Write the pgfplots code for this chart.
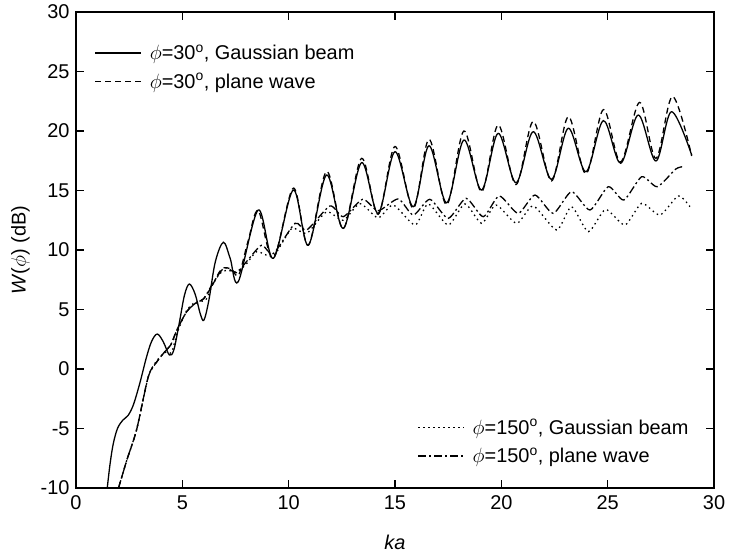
\documentclass[border=0pt]{standalone}
\usepackage{fontspec}
\setmainfont{Liberation Sans}
\usepackage{pgfplots}
\pgfplotsset{compat=1.18}
\begin{document}
\begin{tikzpicture}
\pgfplotsset{common/.style={width=638bp,height=476bp,scale only axis,
  xmin=0,xmax=30,ymin=-10,ymax=30,anchor=south west,at={(0,0)},
  font=\fontsize{20}{24}\selectfont,
  legend image code/.code={\draw[##1,line width=1.3pt] (0bp,0bp) -- (46bp,0bp);},
  legend cell align=left,
  cycle list={{black}},
  every axis plot/.append style={line width=1.3pt,black,no markers,smooth,tension=0.55}}}
\begin{axis}[common,
  axis line style={line width=1.3pt},
  tick style={line width=1.1pt,black},
  major tick length=8bp, tick align=inside,
  xtick={0,5,...,30}, ytick={-10,-5,...,30},
  xticklabel style={yshift=-4bp},
  yticklabel style={xshift=-3bp},
  /pgf/number format/assume math mode=true,
  xlabel={\textit{ka}}, ylabel={\textit{W}($\phi$) (dB)},
  xlabel style={yshift=-19bp},
  ylabel style={yshift=4bp},
  legend style={draw=none,fill=none,at={(0.024,0.94)},anchor=north west,
    row sep=8bp, font=\fontsize{20}{24}\selectfont,
    /tikz/every odd column/.append style={column sep=6bp}},
]
\addplot[solid] coordinates {
(1.47,-10) (1.6,-8.0) (1.75,-6.3) (1.95,-5.0) (2.2,-4.3) (2.45,-3.9) (2.7,-3.0)
(3.0,-1.2) (3.3,0.9) (3.55,2.3) (3.82,2.94) (4.1,2.3) (4.39,1.18) (4.6,1.6)
(4.85,3.8) (5.1,6.2) (5.33,7.14) (5.6,6.3) (5.85,4.6) (6.02,4.12) (6.25,5.8)
(6.55,9.0) (6.93,10.65) (7.25,9.3) (7.63,7.34) (8.57,13.36) (9.28,9.3)
(10.22,15.04) (10.92,10.4) (11.78,16.3) (12.57,11.82) (13.43,17.34) (14.21,13.08)
(15.0,18.26) (15.86,13.64) (16.6,18.76) (17.43,13.97) (18.24,19.24) (19.07,15.04)
(19.85,19.8) (20.69,15.65) (21.5,19.94) (22.36,15.94) (23.15,20.23) (23.98,16.58)
(24.8,20.87) (25.61,17.29) (26.44,21.34) (27.27,17.48) (28.0,21.62) (28.95,17.98)
};
\addlegendentry{$\phi$=30\textsuperscript{o}, Gaussian beam}
\addplot[dash pattern=on 6bp off 4bp] coordinates {
(2.0,-10) (2.4,-7.6) (2.85,-5.1) (3.4,-0.65) (3.8,0.6) (4.2,1.5) (4.45,2.0)
(4.75,3.3) (5.2,4.8) (5.6,5.5) (6.0,5.9) (6.4,7.0) (6.85,8.4) (7.3,8.4)
(7.65,7.9) (8.1,10.8) (8.57,13.3) (9.28,9.3) (10.22,15.2) (10.92,10.4)
(11.78,16.6) (12.57,11.8) (13.43,17.7) (14.21,13.0) (15.0,18.7) (15.86,13.5)
(16.6,19.3) (17.43,13.8) (18.24,20.0) (19.07,14.9) (19.85,20.5) (20.69,15.5)
(21.5,20.8) (22.36,15.8) (23.15,21.2) (23.98,16.4) (24.8,21.8) (25.61,17.4)
(26.5,22.4) (27.27,17.7) (28.05,22.9) (28.95,17.9)
};
\addlegendentry{$\phi$=30\textsuperscript{o}, plane wave}
\end{axis}
\begin{axis}[common, hide axis,
  legend style={draw=none,fill=none,at={(0.968,0.041)},anchor=south east,
    row sep=8bp, font=\fontsize{20}{24}\selectfont,
    /tikz/every odd column/.append style={column sep=6bp}},
]
\addplot[dash pattern=on 1.5bp off 3.5bp, tension=0.4] coordinates {
(2.0,-10) (2.4,-7.6) (2.85,-5.1) (3.4,-0.65) (3.8,0.7) (4.2,1.4) (4.5,1.4)
(4.75,3.0) (5.2,4.9) (5.6,5.6) (6.1,5.8) (6.4,7.0) (6.77,8.04) (7.1,8.3)
(7.55,8.18) (8.0,8.8) (8.5,9.86) (9.28,9.5) (10.14,11.8) (10.85,11.4)
(11.78,13.2) (12.57,12.5) (13.35,13.9) (14.2,12.7) (14.92,13.78) (15.94,12.1)
(16.56,13.87) (17.5,12.1) (18.29,13.87) (19.07,12.24) (19.75,13.78) (20.72,12.24)
(21.5,13.7) (22.6,11.68) (23.3,13.64) (24.09,11.54) (24.9,13.4) (25.81,12.1)
(26.6,13.92) (27.46,12.94) (28.32,14.54) (28.87,13.64)
};
\addlegendentry{$\phi$=150\textsuperscript{o}, Gaussian beam}
\addplot[dash pattern=on 8bp off 3bp on 2bp off 3bp, tension=0.4] coordinates {
(2.0,-10) (2.4,-7.6) (2.85,-5.1) (3.4,-0.65) (3.8,0.6) (4.2,1.5) (4.45,2.0)
(4.75,3.3) (5.2,4.8) (5.6,5.5) (6.0,5.9) (6.4,7.1) (6.85,8.3) (7.1,8.5)
(7.55,8.1) (8.1,9.2) (8.73,10.4) (9.28,9.7) (10.3,12.24) (10.85,11.68)
(11.94,13.7) (12.57,12.8) (13.48,14.26) (14.21,13.3) (15.15,14.29) (15.86,12.94)
(16.64,14.26) (17.5,12.66) (18.34,14.34) (19.15,12.8) (19.9,14.54) (20.79,13.08)
(21.58,14.62) (22.44,13.08) (23.3,14.9) (24.17,13.36) (25.03,15.32) (25.76,14.2)
(26.6,16.16) (27.33,15.32) (28.2,16.8) (28.55,17.0)
};
\addlegendentry{$\phi$=150\textsuperscript{o}, plane wave}
\end{axis}
\pgfresetboundingbox
\path[use as bounding box] (-76bp,-70bp) rectangle (653bp,488bp);
\end{tikzpicture}
\end{document}
